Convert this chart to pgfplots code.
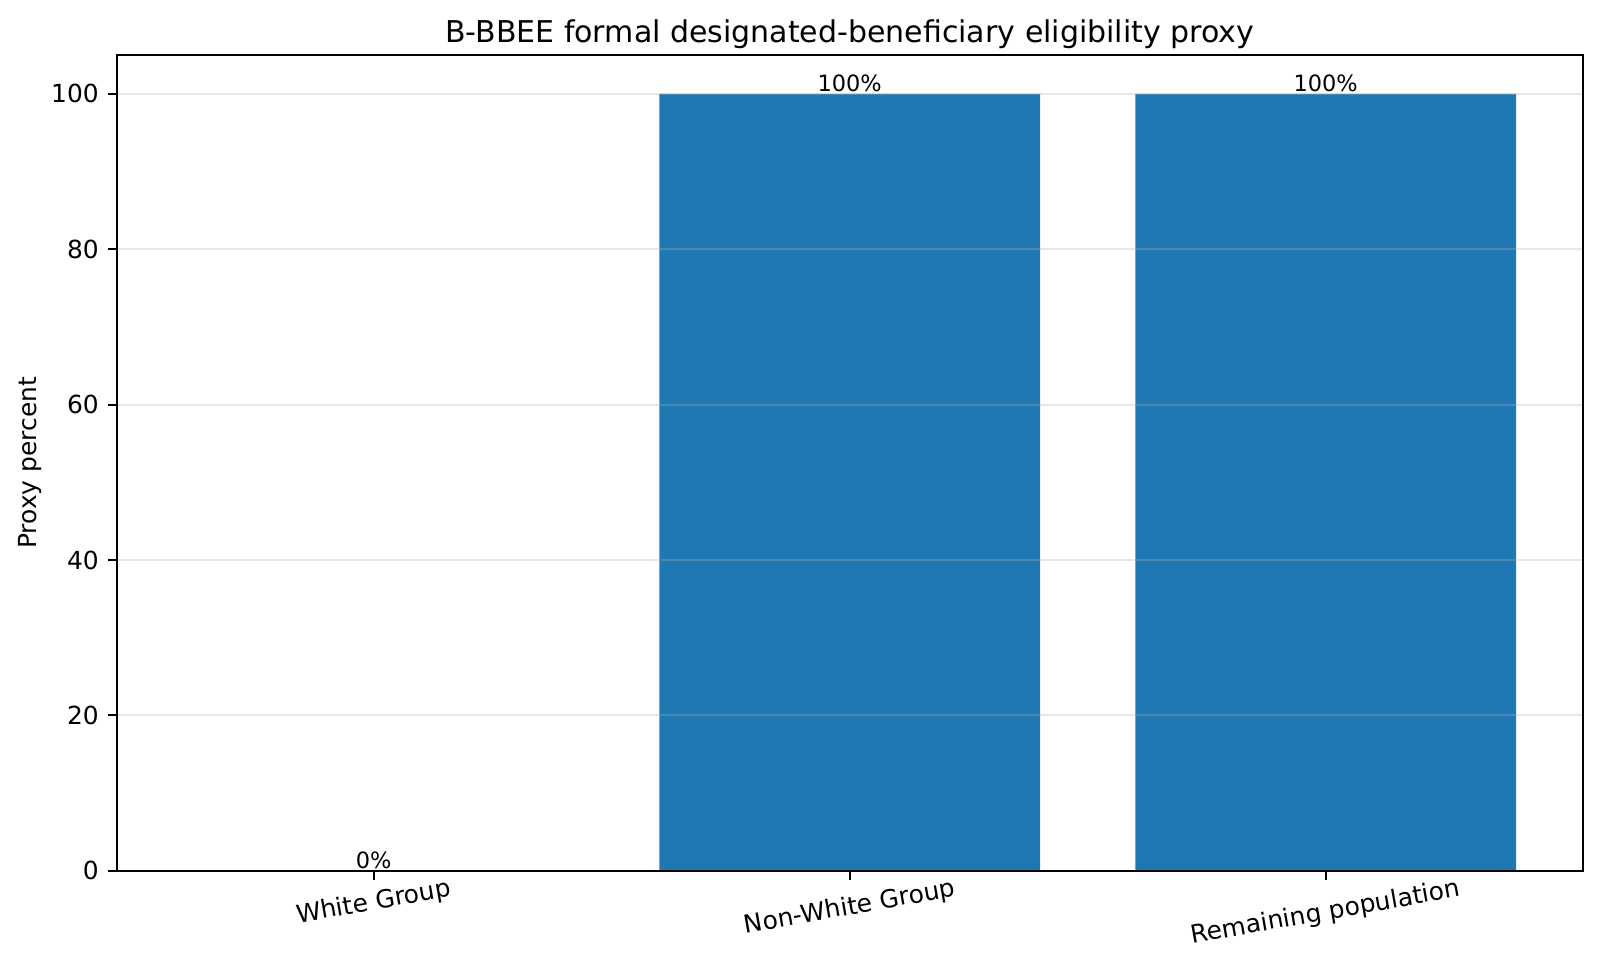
\documentclass[border=0pt]{standalone}
\usepackage{pgfplots}
\pgfplotsset{compat=1.18}
\usepackage{fontspec}
\setmainfont{DejaVu Sans}
\definecolor{mblue}{HTML}{1F77B4}
\definecolor{gridc}{HTML}{B0B0B0}
\begin{document}
\begin{tikzpicture}
\path[use as bounding box] (-52.5pt,-43.8pt) rectangle (667.5pt,391.85pt);
\begin{axis}[
  scale only axis,
  width=659.7pt, height=367.1pt,
  xmin=-0.54, xmax=2.54, ymin=0, ymax=105,
  xtick={0,1,2},
  xticklabels={\rotatebox{10}{White Group},\rotatebox{10}{Non-White Group},\rotatebox{10}{Remaining population}},
  xticklabel style={anchor=north, inner sep=0pt, yshift=1.1pt, font=\fontsize{11.2}{13}\selectfont},
  ytick={0,20,40,60,80,100},
  yticklabel style={anchor=east, inner sep=0pt, xshift=-3.94pt, font=\fontsize{11.2}{13}\selectfont},
  /pgf/number format/assume math mode=true,
  ymajorgrids, grid style={gridc, opacity=0.3, line width=0.8pt},
  axis on top,
  tick align=outside,
  tick style={black, line width=0.9pt},
  major tick length=3.94pt,
  xtick pos=bottom, ytick pos=left,
  axis line style={line width=0.9pt},
  ylabel={Proxy percent},
  ylabel style={at={(axis description cs:-0.0588,0.5)}, anchor=center, font=\fontsize{11.2}{13}\selectfont},
  title={B-BBEE formal designated-beneficiary eligibility proxy},
  title style={at={(axis description cs:0.5,1)}, anchor=base, yshift=-0.2pt, inner sep=0pt, font=\fontsize{13.5}{16}\selectfont},
  ybar, bar width=0.8,
  nodes near coords={\pgfmathprintnumber{\pgfplotspointmeta}\%},
  every node near coord/.append style={font=\fontsize{10.1}{12}\selectfont, inner sep=0.6pt, anchor=south},
]
\addplot[fill=mblue, draw=none] coordinates {(0,0) (1,100) (2,100)};
\end{axis}
\end{tikzpicture}
\end{document}
